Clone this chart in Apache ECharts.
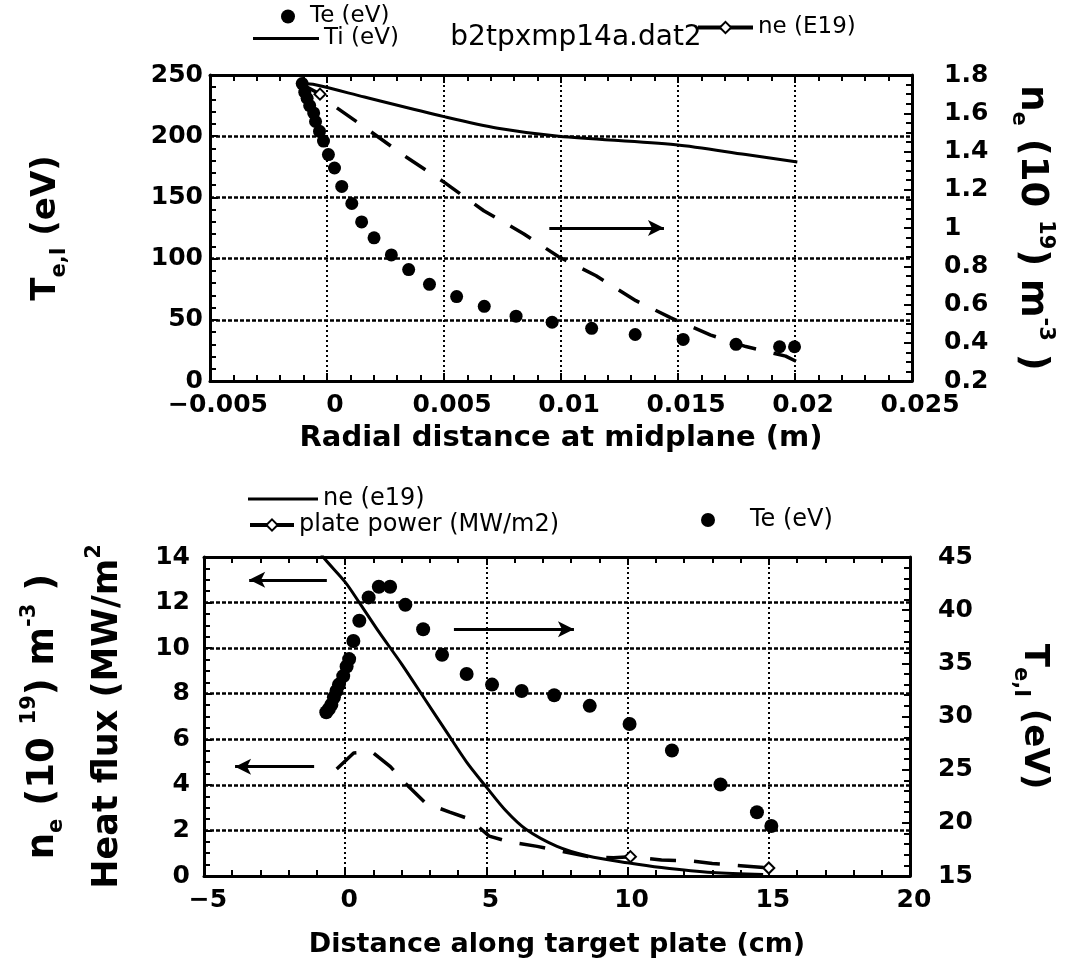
<!DOCTYPE html>
<html><head><meta charset="utf-8">
<script src="https://cdn.jsdelivr.net/npm/echarts@6/dist/echarts.min.js"></script>
<style>html,body{margin:0;padding:0;background:#fff}#c{width:1067px;height:962px}</style>
</head><body><div id="c"></div>
<script>
// ---------- TOP PANEL DATA (x: radial distance at midplane, m) ----------
const teTopX = [-0.00106,-0.00095,-0.00085,-0.00074,-0.00057,-0.00049,-0.00032,-0.00015,0.00006,0.00032,0.00063,0.00106,0.00148,0.00201,0.00275,0.00349,0.00438,0.00554,0.00672,0.00808,0.00962,0.01131,0.01317,0.01522,0.01748,0.01934,0.01998];
const teTopY = [243,236,231,225,219,212,204,196,185,174,159,145,130,117,103,91,79,69,61,53,48,43,38,34,30,28,28];
const tiTopX = [-0.00106,-0.0005,0.0016,0.005,0.0073,0.0099,0.0149,0.0179,0.0201];
const tiTopY = [243,242,232,216,206.5,200,193,185,179];
const neTopX = [-0.00106,-0.0003,0.0004,0.0018,0.0034,0.005,0.0067,0.0084,0.0099,0.0115,0.0132,0.0147,0.0164,0.0179,0.0196,0.0201];
const neTopY = [1.75,1.70,1.63,1.51,1.37,1.24,1.09,0.97,0.85,0.75,0.62,0.53,0.44,0.38,0.33,0.30];
const neTopMarkerX = [-0.0003];
const arrowTop = [[0.0095, 1.0], [0.0144, 1.0]];

// ---------- BOTTOM PANEL DATA (x: distance along target plate, cm) ----------
const neBotX = [-0.9,-0.78,0,0.5,1.2,2.0,2.8,3.6,4.3,5.0,5.7,6.4,7.5,8.6,10.0,11.2,13.0,14.8];
const neBotY = [14.3,14.0,12.9,12.0,10.7,9.3,7.8,6.3,5.0,3.9,2.85,2.05,1.3,0.88,0.58,0.37,0.15,0.07];
const ppX = [-0.3,0.3,0.95,1.6,2.1,2.85,3.7,4.4,5.1,5.8,6.8,8.6,9.5,10.1,11.2,12.3,13.0,14.0,15.0];
const ppY = [4.7,5.4,5.45,4.8,4.1,3.2,2.8,2.5,1.75,1.5,1.3,0.85,0.8,0.85,0.7,0.65,0.55,0.45,0.35];
const ppMarkerX = [10.1, 15.0];
const teBotX = [-0.67,-0.58,-0.49,-0.40,-0.31,-0.22,-0.07,0.05,0.14,0.29,0.50,0.83,1.19,1.59,2.13,2.76,3.43,4.30,5.20,6.25,7.40,8.66,10.07,11.57,13.29,14.58,15.09];
const teBotY = [30.4,30.7,31.1,31.8,32.4,33.0,33.8,34.7,35.4,37.1,39.0,41.2,42.2,42.2,40.5,38.2,35.8,34.0,33.0,32.4,32.0,31.0,29.3,26.8,23.6,21.0,19.7];
const arrowNeBot = [[-0.65, 13.0], [-3.4, 13.0]];
const arrowPpBot = [[-1.1, 4.8], [-3.9, 4.8]];
const arrowTeBot = [[3.85, 38.2], [8.1, 38.2]];

// ---------- labels ----------
const seriesNames = {teTop:'Te (eV)', tiTop:'Ti (eV)', neTop:'ne (E19)', neBot:'ne (e19)', ppBot:'plate power (MW/m2)', teBot:'Te (eV)'};
const plotTitle = 'b2tpxmp14a.dat2';
const xNameTop = 'Radial distance at midplane (m)';
const xNameBot = 'Distance along target plate (cm)';
const yNameT = '{m|T}{s|e,I}{m| (eV)}';
const yNameNe = '{n|n}{s|e}{n| (10 }{p|19}{n|) m}{p|-3}{n| )}';
const yNameQ = '{q|Heat flux (MW/m}{p|2}';

const zip = (xs, ys) => xs.map((x, i) => [x, ys[i]]);
const fmt = v => String(parseFloat((+v).toFixed(4))).replace('-', '\u2212');

const tickFont = {fontFamily:'DejaVu Sans', fontWeight:'bold', fontSize:25, color:'#000'};
const nf = 'DejaVu Sans';
const tok = (size, lh, va) => ({fontFamily:nf, fontWeight:'bold', fontSize:size, color:'#000', lineHeight:lh, verticalAlign:va});
const rich = {
  m:tok(34, 48, 'middle'),
  n:tok(37, 48, 'middle'),
  q:tok(35, 48, 'middle'),
  s:tok(21, 20, 'bottom'),
  p:tok(21, 20, 'top')
};
const nameStyle = {fontFamily:nf, fontWeight:'bold', fontSize:34, color:'#000', rich};

const blk = '#000';
function xAx(grid, min, max, interval, name, gap, top, nameSize, lblPad) {
  return {
    gridIndex:grid, type:'value', min, max, interval, position: top ? 'top' : 'bottom',
    axisLine:{show:true, onZero:false, lineStyle:{color:blk, width:3}},
    axisTick:{show:true, inside:true, length:8, lineStyle:{color:blk, width:2}},
    minorTick:{show:true, splitNumber:5, length:6, lineStyle:{color:blk, width:2}},
    axisLabel:{show:!top, ...tickFont, margin:12, padding:[0,0,0,lblPad], formatter:fmt},
    splitLine:{show:!top, lineStyle:{color:blk, type:[2,3], width:2}},
    name: top ? '' : name, nameLocation:'middle', nameGap:gap,
    nameTextStyle:{fontFamily:nf, fontWeight:'bold', fontSize:nameSize, color:blk}
  };
}
function yAx(grid, pos, min, max, interval, minorSplit, name, gap, rot, margin, split) {
  return {
    gridIndex:grid, type:'value', min, max, interval, position:pos,
    axisLine:{show:true, onZero:false, lineStyle:{color:blk, width:3}},
    axisTick:{show:true, inside:true, length:8, lineStyle:{color:blk, width:2}},
    minorTick:{show:true, splitNumber:minorSplit, length:6, lineStyle:{color:blk, width:2}},
    axisLabel:{...tickFont, margin, formatter:fmt},
    splitLine:{show:split, lineStyle:{color:blk, type:[4,2], width:2.5}},
    name, nameLocation:'middle', nameGap:gap, nameRotate:rot, nameTextStyle:nameStyle
  };
}
function arrow(pair) {
  return {
    silent:true, symbol:['none','arrow'], symbolSize:[12,16], animation:false,
    label:{show:false}, lineStyle:{color:blk, width:3, type:'solid'},
    data:[[{coord:pair[0]}, {coord:pair[1]}]]
  };
}
const markIdx = (xs, marks) => xs.map(x => marks.includes(x));
const neTopMk = markIdx(neTopX, neTopMarkerX);
const ppMk = markIdx(ppX, ppMarkerX);
const legTxt = sz => ({fontFamily:'DejaVu Sans', fontSize:sz, color:blk});

const option = {
  animation:false,
  backgroundColor:'#fff',
  title:{text:plotTitle, left:576, top:24, textAlign:'center', padding:0,
         textStyle:{fontFamily:'DejaVu Sans', fontWeight:'normal', fontSize:28, color:blk}},
  legend:[
    {data:[seriesNames.teTop], left:281, top:5, padding:0, itemWidth:14, itemHeight:14, icon:'circle',
     textStyle:{...legTxt(23), padding:[0,0,0,10]}},
    {data:[seriesNames.tiTop], left:253, top:27, padding:0, itemWidth:66, itemHeight:3, icon:'rect',
     textStyle:legTxt(23)},
    {data:[seriesNames.neTop], left:696, top:16, padding:0, itemWidth:55, itemHeight:14,
     lineStyle:{type:'solid', width:4}, textStyle:legTxt(23)},
    {data:[seriesNames.neBot], left:248, top:487, padding:0, itemWidth:70, itemHeight:3, icon:'rect',
     textStyle:legTxt(24)},
    {data:[seriesNames.ppBot], left:248, top:513, padding:0, itemWidth:44, itemHeight:14,
     lineStyle:{type:'solid', width:4}, textStyle:legTxt(24)},
    {data:[seriesNames.teBot], left:701, top:508, padding:0, itemWidth:14, itemHeight:14, icon:'circle',
     textStyle:{...legTxt(24), padding:[0,0,0,30]}}
  ],
  grid:[
    {left:210, top:75, width:702, height:306},
    {left:204, top:557, width:706, height:319}
  ],
  xAxis:[
    xAx(0, -0.005, 0.025, 0.005, xNameTop, 43, false, 29, 16),
    xAx(0, -0.005, 0.025, 0.005, '', 0, true, 29, 0),
    xAx(1, -5, 20, 5, xNameBot, 55, false, 27, 8),
    xAx(1, -5, 20, 5, '', 0, true, 27, 0)
  ],
  yAxis:[
    yAx(0, 'left', 0, 250, 50, 5, yNameT, 140, 90, 7, true),
    yAx(0, 'right', 0.2, 1.8, 0.2, 4, yNameNe, 96, -90, 32, false),
    yAx(1, 'left', 0, 14, 2, 4, yNameQ, 72, 90, 14, true),
    yAx(1, 'right', 15, 45, 5, 5, yNameT, 100, -90, 28, false),
    {gridIndex:1, type:'value', min:0, max:14, position:'left',
     axisLine:{show:false}, axisTick:{show:false}, axisLabel:{show:false}, splitLine:{show:false},
     name:yNameNe, nameLocation:'middle', nameGap:137, nameRotate:90, nameTextStyle:nameStyle}
  ],
  series:[
    {name:seriesNames.teTop, type:'scatter', xAxisIndex:0, yAxisIndex:0, symbol:'circle', symbolSize:13,
     itemStyle:{color:blk, opacity:1}, data:zip(teTopX, teTopY), z:5},
    {name:seriesNames.tiTop, type:'line', xAxisIndex:0, yAxisIndex:0, symbol:'none', smooth:0.3,
     lineStyle:{color:blk, width:3}, itemStyle:{color:blk}, data:zip(tiTopX, tiTopY)},
    {name:seriesNames.neTop, type:'line', xAxisIndex:0, yAxisIndex:1, symbol:'emptyDiamond', symbolSize:11, showSymbol:true,
     lineStyle:{color:blk, width:3.5, type:[24,18]}, itemStyle:{color:blk, borderWidth:2},
     data:zip(neTopX, neTopY).map((p, i) => ({value:p, symbol: neTopMk[i] ? 'emptyDiamond' : 'none'})),
     markLine:arrow(arrowTop)},
    {name:seriesNames.neBot, type:'line', xAxisIndex:2, yAxisIndex:2, symbol:'none', smooth:0.3,
     lineStyle:{color:blk, width:3}, itemStyle:{color:blk}, data:zip(neBotX, neBotY),
     markLine:arrow(arrowNeBot)},
    {name:seriesNames.ppBot, type:'line', xAxisIndex:2, yAxisIndex:2, symbol:'emptyDiamond', symbolSize:11, showSymbol:true,
     lineStyle:{color:blk, width:3.5, type:[26,18]}, itemStyle:{color:blk, borderWidth:2},
     data:zip(ppX, ppY).map((p, i) => ({value:p, symbol: ppMk[i] ? 'emptyDiamond' : 'none'})),
     markLine:arrow(arrowPpBot)},
    {name:seriesNames.teBot, type:'scatter', xAxisIndex:2, yAxisIndex:3, symbol:'circle', symbolSize:14,
     itemStyle:{color:blk, opacity:1}, data:zip(teBotX, teBotY), z:5,
     markLine:arrow(arrowTeBot)}
  ]
};
const chart = echarts.init(document.getElementById('c'), null, {renderer:'canvas'});
chart.setOption(option);
</script></body></html>
